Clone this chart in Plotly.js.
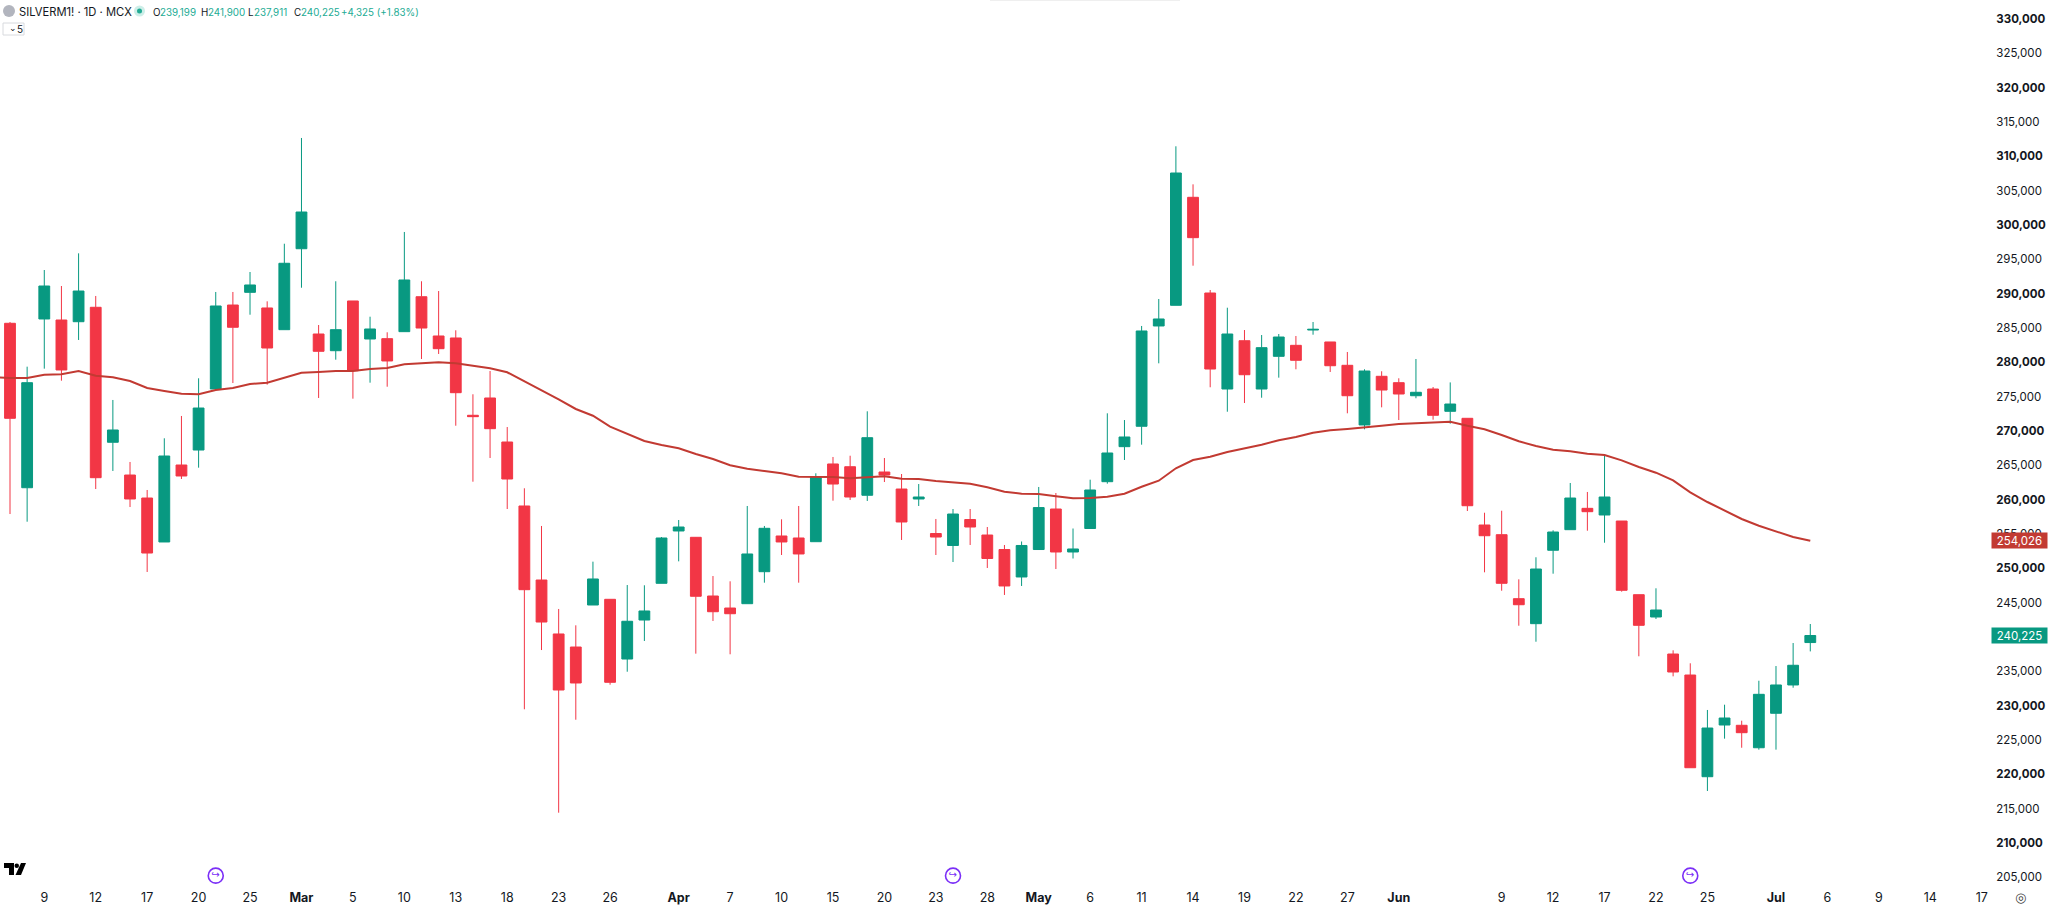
<!DOCTYPE html>
<html>
<head>
<meta charset="utf-8">
<script src="https://cdn.plot.ly/plotly-3.0.1.min.js"></script>
<style>html,body{margin:0;padding:0;background:#fff;overflow:hidden}#chart{width:2048px;height:908px}</style>
</head>
<body>
<div id="chart"></div>
<script>
const opens = [285700,261750,286330,286180,285930,288030,268370,263600,260250,253850,
265060,267240,276130,288360,290210,287930,284770,296560,284140,281710,
288950,283410,283460,284480,289570,283850,283560,272300,274820,268410,
259090,248310,240450,238550,244670,245500,236800,242480,247830,255450,
254530,245980,244230,244860,249520,254720,254430,253890,265210,264810,
260650,264040,261560,260110,255080,253340,257120,254860,252750,248750,
252750,258650,252390,255810,262630,267730,270700,285310,288320,304050,
290110,276130,283160,276130,280890,282490,284720,282980,279580,270890,
277980,277050,275150,276130,272880,271860,256320,254910,245590,241950,
252640,255640,258750,257780,256900,246170,242920,237530,234470,219660,
227190,227150,223880,228900,233020,239199];
const highs = [285890,279380,293460,291130,295890,289680,274530,265500,261420,268950,
272200,277690,290260,290260,293170,288900,297290,312690,285450,291820,
288950,286660,284390,299000,291820,290400,284680,275360,278750,270590,
261670,256180,244090,241710,250980,245500,247580,247540,254570,257050,
254570,248890,248120,259090,256180,257150,259090,263850,266230,266410,
272880,266080,263750,262290,257200,258650,258650,256030,253410,253920,
261860,260980,255810,262920,272590,271610,285310,289240,311480,305940,
290550,287970,284720,283990,284140,283850,285890,282980,281520,279000,
278710,277690,280500,276420,277090,271860,258110,258400,248410,251620,
255550,262440,261130,266620,256900,246170,247100,238070,236180,229380,
230150,227820,233640,235780,239130,241900];
const lows = [257920,256800,279090,277340,283270,261560,264190,258940,249480,253850,
263020,264670,276130,277000,286950,276760,284770,290880,274820,280400,
274720,277050,276460,284480,280500,281230,270780,262630,266080,258650,
229480,238110,214420,227960,244670,233060,234950,239430,247830,251030,
237580,242340,237490,244860,247920,251950,247920,253890,259860,259960,
259820,262580,254140,259090,251950,250930,253410,250060,246130,247440,
252680,249910,251440,255810,262340,265790,268020,279870,288320,294090,
276380,272820,274090,274860,277780,279000,284040,278610,272590,270260,
273460,271610,274780,271660,271080,258360,249430,246750,241650,239320,
249230,255640,255490,253740,246610,237200,242630,234280,220970,217580,
225200,223880,223600,223600,232620,237911];
const closes = [271860,277050,291130,278900,290400,263210,270160,260110,252240,266370,
263460,273360,288220,285120,291280,282100,294440,301910,281620,284770,
278790,284870,280210,292010,285010,282000,275590,272100,270350,263020,
246900,242190,232290,233310,248460,233410,242300,243800,254430,256030,
245940,243690,243400,252100,255840,253850,252100,263270,262290,260400,
269040,263600,256760,260400,254570,257920,256030,251440,247440,253340,
258860,252390,252830,261420,266810,269140,284580,286330,307590,298170,
279040,284140,278210,282150,283700,280310,284820,279520,275150,278750,
275980,275400,275650,272300,273940,259130,254760,247830,244710,249910,
255300,260250,258260,260400,246810,241710,243940,234910,220970,226750,
228210,226070,231660,233020,235890,240225];

// Moving average: first value belongs to the bar just left of the frame.
const maStartBar = -1;
const maValues = [277880,277730,277730,278210,278270,278750,278070,277830,277290,276280,275840,
275450,275360,275980,276280,276860,277050,277730,278500,278610,278750,
278750,279040,279190,279730,279870,280020,279870,279520,279140,278560,
277290,275980,274630,273220,272240,270640,269580,268560,267970,267490,
266660,265930,265020,264520,264190,263850,263360,263310,263310,263120,
263270,263410,263060,263020,262730,262540,262340,261810,261170,260880,
260840,260500,260210,260250,260440,260880,261900,262770,264580,265790,
266270,266950,267430,268020,268660,269140,269760,270110,270300,270590,
270780,271030,271130,271220,271370,270780,270260,269430,268510,267830,
267290,267060,266710,266520,265740,264770,263940,262830,261080,259670,
258400,257200,256220,255350,254570,254026];

const xTickBars = [2,5,8,11,14,17,20,23,26,29,32,35,39,42,45,48,51,54,57,60,63,66,69,72,75,78,81,87,90,93,96,99,103,106,109,112,115];
const xTickLabels = ['9','12','17','20','25','<b>Mar</b>','5','10','13','18','23','26','<b>Apr</b>','7','10','15','20','23','28','<b>May</b>','6','11','14','19','22','27','<b>Jun</b>','9','12','17','22','25','<b>Jul</b>','6','9','14','17'];
const yTickValues = [330000,325000,320000,315000,310000,305000,300000,295000,290000,285000,280000,275000,270000,265000,260000,255000,250000,245000,240000,235000,230000,225000,220000,215000,210000,205000];
const yTickLabels = ['<b>330,000</b>','325,000','<b>320,000</b>','315,000','<b>310,000</b>','305,000','<b>300,000</b>','295,000','<b>290,000</b>','285,000','<b>280,000</b>','275,000','<b>270,000</b>','265,000','<b>260,000</b>','255,000','<b>250,000</b>','245,000','<b>240,000</b>','235,000','<b>230,000</b>','225,000','<b>220,000</b>','215,000','<b>210,000</b>','205,000'];
const eventBars = [12,55,98];
const eventLevel = 205250;

const UP='#089981', DOWN='#F23645', MA='#C23A32', FONT='Inter, "Liberation Sans", sans-serif';
const W=2048, H=908, PLOT_W=1985, PLOT_H=880;
const barIndex = opens.map((_,i)=>i);
const maBars = maValues.map((_,i)=>i+maStartBar);
const px = x => x/PLOT_W, py = y => 1-y/PLOT_H;

const candles = {
  type:'candlestick', x:barIndex, open:opens, high:highs, low:lows, close:closes,
  increasing:{line:{color:UP,width:1},fillcolor:UP},
  decreasing:{line:{color:DOWN,width:1},fillcolor:DOWN},
  whiskerwidth:0, hoverinfo:'skip', showlegend:false
};
const maLine = {type:'scatter',mode:'lines',x:maBars,y:maValues,line:{color:MA,width:2},hoverinfo:'skip',showlegend:false};
const events = {type:'scatter',mode:'markers+text',x:eventBars,y:eventBars.map(()=>eventLevel),
  marker:{symbol:'circle-open',size:15,color:'#7B2FF7',line:{width:1.6,color:'#7B2FF7'}},
  text:eventBars.map(()=>'↪'),textposition:'middle center',textfont:{size:10,color:'#7B2FF7',family:'DejaVu Sans'},
  hoverinfo:'skip',showlegend:false,cliponaxis:false};

function label(x,text,color,opts){
  return Object.assign({xref:'paper',yref:'paper',x:px(x),y:py(12),xanchor:'left',yanchor:'middle',showarrow:false,
    text:text,align:'left',font:{family:FONT,size:9.8,color:color}},opts||{});
}
const GREEN_TXT='#22ab94', DARK='#131722';
const annotations = [
  label(17,'SILVERM1! · 1D · MCX',DARK,{font:{family:FONT,size:11.2,color:DARK}}),
  label(151,'O',DARK), label(158,'239,199',GREEN_TXT),
  label(199,'H',DARK), label(206,'241,900',GREEN_TXT),
  label(246,'L',DARK), label(252,'237,911',GREEN_TXT),
  label(292,'C',DARK), label(299,'240,225',GREEN_TXT),
  label(339,'+4,325 (+1.83%)',GREEN_TXT),
  label(7,'⌄',DARK,{y:py(28),font:{family:'DejaVu Sans',size:9,color:DARK}}),
  label(15,'5',DARK,{y:py(29),font:{family:FONT,size:10,color:DARK}}),
  {xref:'paper',yref:'y',x:px(1991),y:maValues[maValues.length-1],xanchor:'left',yanchor:'middle',showarrow:false,
   text:'254,026',width:55,height:15,bgcolor:MA,borderpad:0,font:{family:FONT,size:11.5,color:'#ffffff'}},
  {xref:'paper',yref:'y',x:px(1991),y:closes[closes.length-1],xanchor:'left',yanchor:'middle',showarrow:false,
   text:'240,225',width:55,height:15,bgcolor:UP,borderpad:0,font:{family:FONT,size:11.5,color:'#ffffff'}},
  {xref:'paper',yref:'paper',x:px(2020),y:py(897),xanchor:'center',yanchor:'middle',showarrow:false,
   text:'◎',font:{family:'DejaVu Sans',size:13,color:'#444444'}}
];
const shapeP = (x,y)=>px(x).toFixed(5)+' '+py(y).toFixed(5);
const shapes = [
  {type:'path',xref:'paper',yref:'paper',fillcolor:'#000',line:{width:0},
   path:'M'+shapeP(4,863)+' L'+shapeP(14,863)+' L'+shapeP(14,875)+' L'+shapeP(9,875)+' L'+shapeP(9,868)+' L'+shapeP(4,868)+' Z'},
  {type:'path',xref:'paper',yref:'paper',fillcolor:'#000',line:{width:0},
   path:'M'+shapeP(21,863)+' L'+shapeP(26,863)+' L'+shapeP(21,875)+' L'+shapeP(15.5,875)+' Z'},
  {type:'circle',xref:'paper',yref:'paper',fillcolor:'#000',line:{width:0},
   x0:px(14.5),x1:px(19),y0:py(868),y1:py(863.5)},
  {type:'rect',xref:'paper',yref:'paper',fillcolor:'rgba(0,0,0,0)',line:{width:1,color:'#d8dade'},
   x0:px(3),x1:px(24),y0:py(35),y1:py(23)},
  {type:'line',xref:'paper',yref:'paper',line:{width:1,color:'#efefef'},x0:px(990),x1:px(1180),y0:py(0.5),y1:py(0.5)},
  {type:'circle',xref:'paper',yref:'paper',fillcolor:'#b2b5be',line:{width:0},
   x0:px(3),x1:px(15),y0:py(17),y1:py(5)},
  {type:'circle',xref:'paper',yref:'paper',fillcolor:'#cdeee8',line:{width:0},
   x0:px(134),x1:px(145),y0:py(16.5),y1:py(5.5)},
  {type:'circle',xref:'paper',yref:'paper',fillcolor:'#22ab94',line:{width:0},
   x0:px(137),x1:px(142),y0:py(13.5),y1:py(8.5)}
];
const layout = {
  width:W,height:H,paper_bgcolor:'#fff',plot_bgcolor:'#fff',showlegend:false,boxgap:0.1,boxmode:'overlay',
  margin:{l:0,r:W-PLOT_W,t:0,b:H-PLOT_H,pad:0},hovermode:false,dragmode:false,
  font:{family:FONT,color:DARK,size:12.5},
  xaxis:{type:'linear',range:[-0.583,115.19],rangeslider:{visible:false},showgrid:false,zeroline:false,showline:false,
    tickmode:'array',tickvals:xTickBars,ticktext:xTickLabels,ticks:'outside',ticklen:6,tickcolor:'rgba(0,0,0,0)',
    tickfont:{family:FONT,size:12.5,color:DARK},automargin:false},
  yaxis:{type:'linear',side:'right',range:[204616,332787],showgrid:false,zeroline:false,showline:false,
    tickmode:'array',tickvals:yTickValues,ticktext:yTickLabels,ticks:'outside',ticklen:8,tickcolor:'rgba(0,0,0,0)',
    tickfont:{family:FONT,size:11.5,color:DARK},automargin:false},
  annotations,shapes
};
Plotly.newPlot('chart',[candles,maLine,events],layout,{displayModeBar:false,staticPlot:true});
</script>
</body>
</html>
